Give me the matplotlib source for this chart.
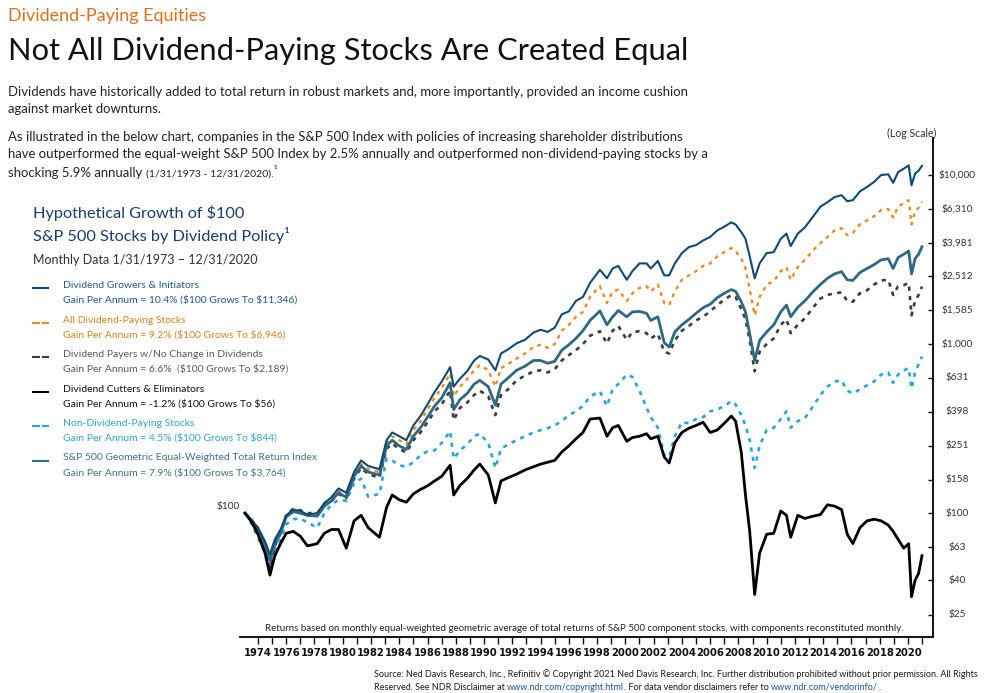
import matplotlib
matplotlib.use('Agg')
import matplotlib.pyplot as plt
from matplotlib import font_manager
from matplotlib.lines import Line2D
from matplotlib.ticker import NullLocator
import numpy as np

# ---------------- data ($ growth of $100) ----------------
years = [1973.08, 1973.5, 1974.0, 1974.5, 1974.85, 1975.2, 1975.6, 1976.0, 1976.5, 1977.0,
         1977.5, 1978.2, 1978.7, 1979.2, 1979.7, 1980.25, 1980.8, 1981.3, 1981.8, 1982.6,
         1983.1, 1983.5, 1984.0, 1984.5, 1985.0, 1985.5, 1986.0, 1986.5, 1987.0, 1987.6,
         1987.85, 1988.3, 1988.8, 1989.3, 1989.7, 1990.3, 1990.8, 1991.2, 1991.7, 1992.3,
         1992.9, 1993.5, 1994.0, 1994.5, 1995.0, 1995.5, 1996.0, 1996.5, 1997.0, 1997.5,
         1998.2, 1998.7, 1999.1, 1999.5, 2000.1, 2000.5, 2001.0, 2001.5, 2001.8, 2002.3,
         2002.75, 2003.1, 2003.5, 2004.0, 2004.5, 2005.0, 2005.5, 2006.0, 2006.5, 2007.0,
         2007.5, 2007.8, 2008.2, 2008.5, 2008.8, 2009.15, 2009.5, 2010.0, 2010.5, 2011.0,
         2011.4, 2011.7, 2012.2, 2012.7, 2013.3, 2013.8, 2014.3, 2014.8, 2015.3, 2015.7,
         2016.1, 2016.6, 2017.1, 2017.6, 2018.1, 2018.6, 2018.95, 2019.3, 2019.7, 2020.05,
         2020.25, 2020.5, 2020.75, 2020.99]

growers = [100, 92, 82, 68, 57, 70, 80, 97, 105, 103,
           98, 100, 115, 124, 140, 132, 175, 205, 190, 182,
           270, 300, 285, 270, 330, 375, 440, 520, 600, 730,
           560, 625, 690, 800, 850, 810, 700, 880, 930, 1010,
           1060, 1170, 1215, 1180, 1250, 1500, 1560, 1800, 1900, 2300,
           2750, 2450, 2800, 2900, 2400, 2700, 3000, 3000, 2800, 3100,
           2550, 2550, 3000, 3450, 3750, 3850, 4100, 4300, 4700, 4950,
           5250, 5100, 4600, 4200, 3300, 2450, 3000, 3450, 3500, 4200,
           4500, 3800, 4500, 4900, 5700, 6500, 6900, 7400, 7600, 7000,
           7100, 8000, 8500, 9100, 10000, 10100, 9000, 10400, 10900, 11400,
           8700, 10200, 10600, 11346]

all_payers = [100, 93, 82, 67, 55, 68, 78, 96, 104, 100,
              96, 97, 112, 120, 135, 128, 168, 195, 182, 175,
              260, 285, 270, 255, 310, 350, 410, 480, 550, 670,
              490, 560, 620, 700, 750, 700, 560, 720, 760, 820,
              880, 960, 990, 950, 1000, 1200, 1300, 1450, 1550, 1900,
              2200, 1750, 2050, 2100, 1800, 2000, 2150, 2200, 2050, 2250,
              1750, 1700, 2050, 2400, 2550, 2700, 2900, 3000, 3300, 3500,
              3700, 3550, 3200, 2800, 2100, 1480, 1900, 2250, 2350, 2700,
              2850, 2400, 2850, 3150, 3600, 3950, 4300, 4700, 4850, 4400,
              4550, 5100, 5400, 5700, 6200, 6300, 5600, 6500, 6800, 7100,
              5100, 6100, 6400, 6946]

equal_weight = [100, 91, 80, 64, 52, 66, 76, 95, 102, 100,
                97, 96, 110, 118, 132, 124, 165, 190, 175, 168,
                250, 270, 250, 238, 285, 320, 370, 430, 480, 590,
                410, 470, 510, 580, 610, 560, 435, 580, 630, 700,
                740, 800, 800, 770, 790, 920, 990, 1080, 1200, 1380,
                1570, 1300, 1450, 1580, 1450, 1550, 1560, 1520, 1380, 1450,
                1020, 960, 1180, 1300, 1400, 1520, 1640, 1720, 1880, 2000,
                2100, 2050, 1780, 1550, 1150, 800, 1050, 1180, 1300, 1550,
                1700, 1450, 1650, 1800, 2050, 2250, 2450, 2600, 2680, 2400,
                2380, 2650, 2800, 2950, 3150, 3200, 2800, 3250, 3400, 3550,
                2600, 3200, 3400, 3764]

no_change = [100, 93, 80, 62, 47, 64, 76, 98, 106, 104,
             100, 100, 112, 118, 130, 122, 160, 185, 170, 162,
             240, 258, 240, 228, 270, 300, 345, 400, 440, 530,
             355, 420, 450, 500, 530, 490, 380, 500, 540, 610,
             650, 690, 700, 680, 710, 800, 860, 920, 1000, 1120,
             1190, 1010, 1200, 1280, 1060, 1180, 1190, 1160, 1080, 1150,
             900, 880, 1050, 1200, 1280, 1380, 1450, 1560, 1700, 1830,
             1950, 1900, 1620, 1400, 1050, 690, 900, 1000, 1080, 1300,
             1400, 1160, 1300, 1420, 1650, 1860, 1950, 2000, 2020, 1800,
             1780, 2000, 2080, 2250, 2380, 2400, 1950, 2200, 2230, 2300,
             1480, 1800, 1950, 2189]

non_payers = [100, 88, 72, 58, 48, 60, 70, 86, 92, 93,
              88, 82, 100, 112, 120, 118, 150, 160, 125, 130,
              210, 205, 192, 188, 200, 220, 232, 235, 260, 305,
              210, 235, 255, 285, 295, 260, 185, 240, 255, 270,
              285, 300, 310, 318, 330, 350, 380, 400, 430, 490,
              525, 430, 540, 580, 660, 640, 530, 420, 370, 320,
              220, 215, 285, 345, 340, 360, 370, 400, 410, 430,
              460, 440, 380, 330, 270, 185, 250, 310, 320, 360,
              400, 320, 350, 365, 430, 500, 560, 600, 610, 530,
              510, 540, 570, 600, 660, 680, 590, 660, 700, 720,
              545, 680, 760, 844]

cutters = [100, 90, 75, 58, 43, 56, 66, 76, 78, 73,
           64, 66, 76, 80, 80, 62, 90, 97, 82, 72,
           108, 128, 120, 116, 130, 138, 145, 155, 165, 192,
           128, 146, 160, 180, 195, 168, 115, 155, 162, 170,
           180, 188, 195, 200, 205, 230, 250, 275, 300, 360,
           365, 285, 320, 330, 266, 280, 285, 295, 275, 285,
           215, 198, 260, 300, 318, 330, 345, 300, 310, 340,
           375, 350, 230, 128, 78, 33, 58, 75, 76, 103,
           97, 72, 97, 93, 96, 98, 112, 110, 105, 75,
           66, 82, 90, 92, 90, 85, 78, 70, 62, 66,
           32, 40, 44, 56]

y_tick_values = [25, 40, 63, 100, 158, 251, 398, 631, 1000, 1585, 2512, 3981, 6310, 10000]
y_tick_labels = ['$25', '$40', '$63', '$100', '$158', '$251', '$398', '$631', '$1,000',
                 '$1,585', '$2,512', '$3,981', '$6,310', '$10,000']
x_tick_years = list(range(1974, 2022))

legend_titles = ['Dividend Growers & Initiators', 'All Dividend-Paying Stocks',
                 'Dividend Payers w/No Change in Dividends', 'Dividend Cutters & Eliminators',
                 'Non-Dividend-Paying Stocks', 'S&P 500 Geometric Equal-Weighted Total Return Index']
legend_gains = ['Gain Per Annum = 10.4% ($100 Grows To $11,346)',
                'Gain Per Annum = 9.2% ($100 Grows To $6,946)',
                'Gain Per Annum = 6.6%  ($100 Grows To $2,189)',
                'Gain Per Annum = -1.2% ($100 Grows To $56)',
                'Gain Per Annum = 4.5% ($100 Grows To $844)',
                'Gain Per Annum = 7.9% ($100 Grows To $3,764)']

# ---------------- styling ----------------
plt.rcParams['text.parse_math'] = False
fonts = font_manager.fontManager.ttflist
names = {f.name for f in fonts}
BODY = 'Lato' if 'Lato' in names else 'DejaVu Sans'
if 'Liberation Sans Narrow' in names:
    NARROW, NSTRETCH = 'Liberation Sans Narrow', 'normal'
elif any(f.name == 'DejaVu Sans' and f.stretch == 'condensed' for f in fonts):
    NARROW, NSTRETCH = 'DejaVu Sans', 'condensed'
else:
    NARROW, NSTRETCH = BODY, 'normal'

C_GROW = '#0e4a73'
C_ALL = '#ef8a1f'
C_NOCH = '#3c3c3c'
C_CUT = '#000000'
C_NON = '#27a6df'
C_EW = '#2e6885'

W, H = 990, 693
fig = plt.figure(figsize=(W / 100, H / 100), dpi=100)
fig.patch.set_facecolor('white')
R = fig.canvas.get_renderer()


def fx(x):
    return x / W


def fy(y):
    return 1 - y / H


def measure(s, size, family=BODY, weight='normal', stretch='normal'):
    t = fig.text(0, 0, s + 'x', fontsize=size, family=family, weight=weight,
                 stretch=stretch, parse_math=False)
    w1 = t.get_window_extent(R).width
    t.set_text('x')
    w2 = t.get_window_extent(R).width
    t.remove()
    return w1 - w2


def fit(s, width, family=BODY, weight='normal'):
    return 10 * width / measure(s, 10, family, weight)


def put(x, y, s, size, color='#222222', family=BODY, weight='normal', ha='left'):
    return fig.text(fx(x), fy(y), s, fontsize=size, color=color, family=family,
                    weight=weight, ha=ha, va='baseline', parse_math=False)


def runs(x, y, parts, family=BODY, weight='normal'):
    for s, size, color, dy in parts:
        put(x, y + dy, s, size, color, family, weight)
        x += measure(s, size, family, weight)


# ---------------- header text ----------------
put(8, 21, 'Dividend-Paying Equities', fit('Dividend-Paying Equities', 199), color='#e0701c')
title = 'Not All Dividend-Paying Stocks Are Created Equal'
put(8, 60, title, fit(title, 680), color='#111111')

p1 = 'Dividends have historically added to total return in robust markets and, more importantly, provided an income cushion'
ps = fit(p1, 680)
put(8, 96, p1, ps)
put(8, 113, 'against market downturns.', ps)
p2a = 'As illustrated in the below chart, companies in the S&P 500 Index with policies of increasing shareholder distributions'
p2b = 'have outperformed the equal-weight S&P 500 Index by 2.5% annually and outperformed non-dividend-paying stocks by a'
put(8, 141, p2a, ps)
put(8, 158, p2b, ps)
runs(8, 177, [('shocking 5.9% annually ', ps, '#222222', 0),
              ('(1/31/1973 - 12/31/2020).', ps * 0.8, '#222222', 0),
              ('\u00b9', ps * 0.8, '#222222', -4)])

# chart header / legend block
sub1 = 'Hypothetical Growth of $100'
ss = fit(sub1, 212)
put(33, 218, sub1, ss, color='#153e6c')
put(33, 241, 'S&P 500 Stocks by Dividend Policy\u00b9', ss, color='#153e6c')
md = 'Monthly Data 1/31/1973 \u2013 12/31/2020'
put(33, 264, md, fit(md, 225), color='#333333')

ls = fit(legend_titles[5], 255)
leg_colors_text = ['#1d5a86', '#e0801f', '#5a5a5a', '#111111', '#2ea6d9', '#44708b']
leg_colors_line = [C_GROW, C_ALL, C_NOCH, C_CUT, C_NON, C_EW]
leg_dashed = [False, True, True, False, True, False]
for i in range(6):
    yc = 284 + i * 34.5
    put(63, yc + 4, legend_titles[i], ls, color=leg_colors_text[i])
    put(63, yc + 19, legend_gains[i], ls, color=leg_colors_text[i])
    ym = fy(yc + 4)
    if leg_dashed[i]:
        fig.add_artist(Line2D([fx(33), fx(38.5)], [ym, ym], color=leg_colors_line[i], lw=1.5))
        fig.add_artist(Line2D([fx(42.5), fx(48)], [ym, ym], color=leg_colors_line[i], lw=1.5))
    else:
        fig.add_artist(Line2D([fx(33), fx(48)], [ym, ym], color=leg_colors_line[i], lw=1.5))

# ---------------- chart ----------------
ax = fig.add_axes([fx(240), fy(637), (933 - 240) / W, (637 - 138) / H])
ax.set_facecolor('none')
ax.set_yscale('log')
ax.set_xlim(1972.73, 2021.77)
ax.set_ylim(18.5, 16560)

dash = (0, (1.6, 2.0))
ax.plot(years, non_payers, color=C_NON, lw=1.9, linestyle=dash, zorder=3)
ax.plot(years, no_change, color=C_NOCH, lw=1.9, linestyle=dash, zorder=3)
ax.plot(years, all_payers, color=C_ALL, lw=1.7, linestyle=dash, zorder=3)
ax.plot(years, equal_weight, color=C_EW, lw=2.0, zorder=4)
ax.plot(years, growers, color=C_GROW, lw=1.5, zorder=5)
ax.plot(years, cutters, color=C_CUT, lw=2.0, zorder=6)

for s in ['top', 'left']:
    ax.spines[s].set_visible(False)
for s in ['bottom', 'right']:
    ax.spines[s].set_linewidth(1.4)
    ax.spines[s].set_color('#111111')

ax.yaxis.tick_right()
ax.set_yticks(y_tick_values)
ax.set_yticklabels([])
ax.yaxis.set_minor_locator(NullLocator())
ax.tick_params(axis='y', which='major', direction='in', length=3.5, width=1.0, color='#111111')
ytr = ax.get_yaxis_transform()
for v, lab in zip(y_tick_values, y_tick_labels):
    ax.text(1 + 24 / 693, v, lab, transform=ytr, ha='center', va='center',
            fontsize=7.3, color='#333333', family=BODY, parse_math=False)

ax.set_xticks(x_tick_years)
ax.set_xticklabels([str(y) if y % 2 == 0 else '' for y in x_tick_years])
ax.xaxis.set_minor_locator(NullLocator())
xt_size = 10 * 28 / measure('2020', 10, NARROW, 'bold', NSTRETCH)
ax.tick_params(axis='x', which='major', direction='out', length=5, width=1.0, pad=3,
               labelsize=xt_size, color='#111111')
for lab in ax.get_xticklabels():
    lab.set_family(NARROW)
    lab.set_stretch(NSTRETCH)
    lab.set_weight('bold')
    lab.set_color('#111111')

# small annotations
put(228, 509, '$100', 7.3, color='#333333', ha='center')
put(912, 137, '(Log Scale)', 7.6, color='#333333', ha='center')
fn = ('Returns based on monthly equal-weighted geometric average of total returns of S&P 500 '
      'component stocks, with components reconstituted monthly.')
put(265, 631, fn, fit(fn, 647), color='#222222')

# source
src1 = ('Source: Ned Davis Research, Inc., Refinitiv \u00a9 Copyright 2021 Ned Davis Research, Inc. '
        'Further distribution prohibited without prior permission. All Rights')
srs = fit(src1, 606)
put(374, 677, src1, srs, color='#1a1a1a')
link = '#1f4fa3'
runs(374, 690, [('Reserved. See NDR Disclaimer at ', srs, '#1a1a1a', 0),
                ('www.ndr.com/copyright.html', srs, link, 0),
                ('. For data vendor disclaimers refer to ', srs, '#1a1a1a', 0),
                ('www.ndr.com/vendorinfo/', srs, link, 0),
                ('.', srs, '#1a1a1a', 0)])

fig.savefig('out.png', dpi=100, facecolor='white')
